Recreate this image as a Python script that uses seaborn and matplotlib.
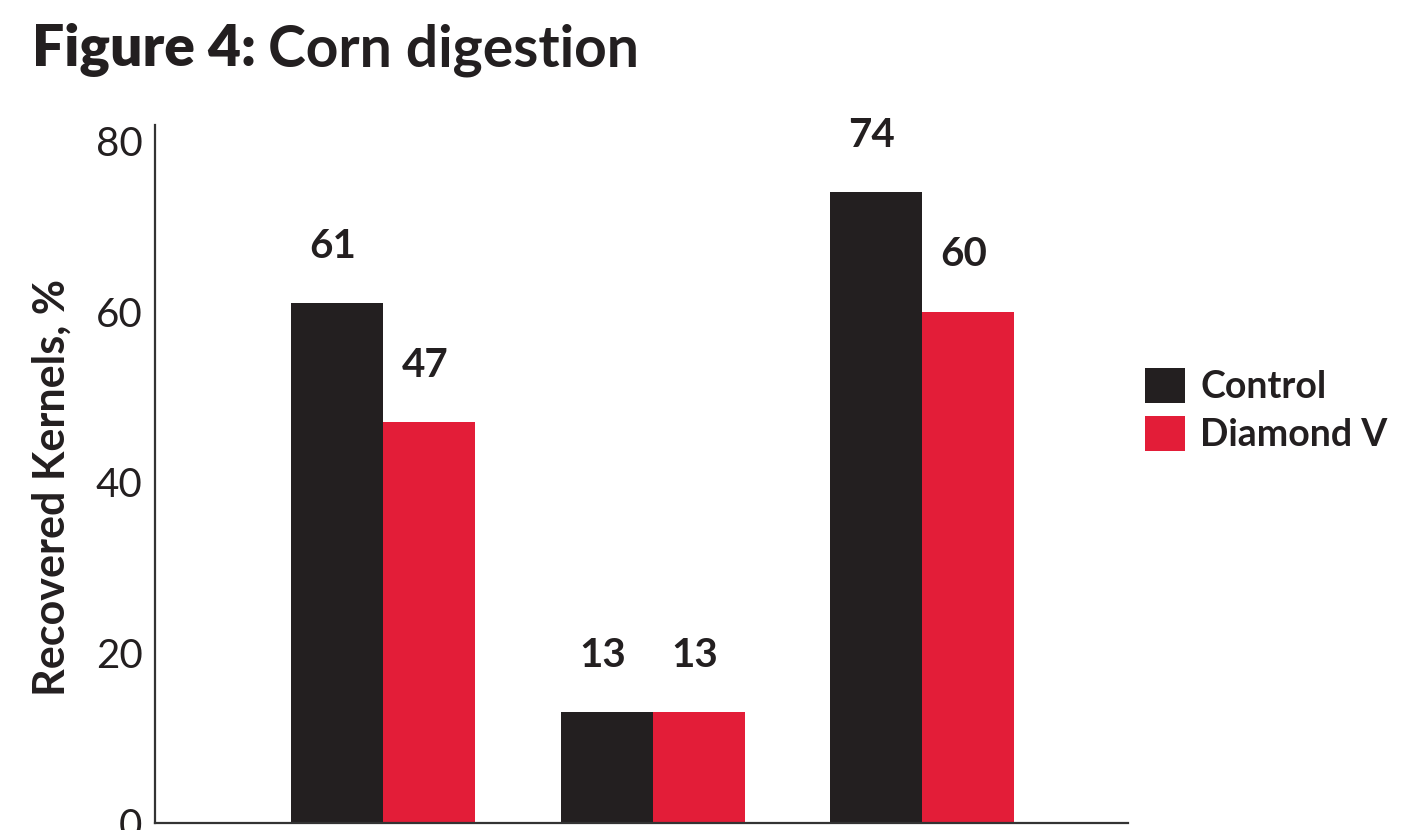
import matplotlib
matplotlib.use("Agg")
import matplotlib.pyplot as plt
import seaborn as sns
import pandas as pd
from matplotlib.patches import Patch

# Data
groups = ["Trial 1", "Trial 2", "Trial 3"]
control = [61, 13, 74]
diamond_v = [47, 13, 60]
series_names = ["Control", "Diamond V"]
colors = ["#231f20", "#e31d38"]

df = pd.DataFrame({
    "group": groups * 2,
    "series": [series_names[0]] * 3 + [series_names[1]] * 3,
    "value": control + diamond_v,
})

sns.set_theme(style="white")
plt.rcParams["font.family"] = ["Lato", "DejaVu Sans"]

W, H = 1401, 830
fig = plt.figure(figsize=(W / 100, H / 100), dpi=100)
ax = fig.add_axes([155 / W, 7 / H, (1128 - 155) / W, (823 - 125) / H])

sns.barplot(data=df, x="group", y="value", hue="series", palette=colors,
            width=0.683, saturation=1, ax=ax, legend=False, linewidth=0)

ax.set_ylim(0, 81.9)
ax.set_xlim(-0.846, 2.764)
ax.set_yticks([0, 20, 40, 60, 80])
ax.tick_params(axis="y", labelsize=29, colors="#231f20", length=0, pad=9)
ax.set_xticks([])
ax.set_xlabel("")
ax.set_ylabel("Recovered Kernels, %", fontsize=31, fontweight="bold",
              color="#231f20", va="center")
ax.yaxis.set_label_coords((52 - 155) / (1128 - 155), (823 - 487) / (823 - 125))

for s in ["top", "right"]:
    ax.spines[s].set_visible(False)
for s in ["left", "bottom"]:
    ax.spines[s].set_color("#333333")
    ax.spines[s].set_linewidth(1.6)

# value labels above each bar
for cont in ax.containers:
    for bar, val in zip(cont, cont.datavalues):
        ax.annotate(f"{val:.0f}", (bar.get_x() + bar.get_width() / 2, val),
                    xytext=(-3, 41), textcoords="offset points",
                    ha="center", va="center", fontsize=29, fontweight="bold",
                    color="#231f20")

# legend
handles = [Patch(facecolor=c, edgecolor="none", label=n) for c, n in zip(colors, series_names)]
leg = fig.legend(handles=handles, loc="center left", bbox_to_anchor=(1145 / W, 1 - 410 / H),
                 frameon=False, fontsize=27, handlelength=1.07, handleheight=1.07,
                 handletextpad=0.4, labelspacing=0.3, borderpad=0, borderaxespad=0)
for t in leg.get_texts():
    t.set_fontweight("bold")
    t.set_color("#231f20")

# title
t1 = fig.text(32 / W, 1 - 50 / H, "Figure 4:", fontsize=41, fontweight="heavy",
              color="#231f20", va="center", ha="left")
fig.canvas.draw()
bb = t1.get_window_extent()
fig.text((bb.x1 + 12) / W, 1 - 50 / H, "Corn digestion", fontsize=41,
         fontweight="bold", color="#231f20", va="center", ha="left")

fig.savefig("out.png", dpi=100)
